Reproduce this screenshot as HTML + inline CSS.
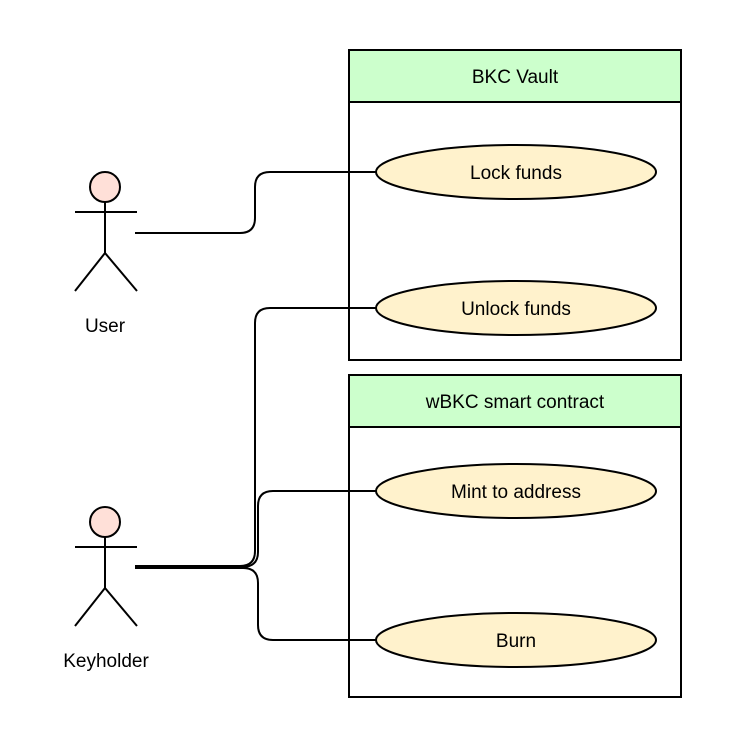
<!DOCTYPE html>
<html><head><style>body{margin:0;background:#fff}</style></head><body>
<svg width="734" height="750" xmlns="http://www.w3.org/2000/svg" font-family="'Liberation Sans', sans-serif" font-size="19" fill="none" stroke="#000" stroke-width="2">
<rect x="349" y="50" width="332" height="310" fill="#fff"/>
<rect x="349" y="50" width="332" height="52" fill="#ccffcc"/>
<rect x="349" y="375" width="332" height="322" fill="#fff"/>
<rect x="349" y="375" width="332" height="52" fill="#ccffcc"/>
<path d="M135 233 H240 Q255 233 255 218 V187 Q255 172 270 172 H376"/>
<path d="M135 566 H240 Q255 566 255 551 V323 Q255 308 270 308 H376"/>
<path d="M135 567 H242 Q258 567 258 552 V506 Q258 491 273 491 H376"/>
<path d="M135 568 H243 Q258 568 258 583 V625 Q258 640 273 640 H376"/>
<g fill="#fff2cc">
<ellipse cx="516" cy="172" rx="140" ry="27"/>
<ellipse cx="516" cy="308" rx="140" ry="27"/>
<ellipse cx="516" cy="491" rx="140" ry="27"/>
<ellipse cx="516" cy="640" rx="140" ry="27"/>
</g>
<g fill="#ffe0d8"><circle cx="105" cy="187" r="15"/><circle cx="105" cy="522" r="15"/></g>
<path d="M105 202 V253 M75 212 H137 M105 253 L75 291 M105 253 L137 291"/>
<path d="M105 537 V588 M75 547 H137 M105 588 L75 626 M105 588 L137 626"/>
<g fill="#000" stroke="none" text-anchor="middle">
<text x="515" y="83">BKC Vault</text>
<text x="515" y="408">wBKC smart contract</text>
<text x="516" y="179">Lock funds</text>
<text x="516" y="315">Unlock funds</text>
<text x="516" y="498">Mint to address</text>
<text x="516" y="647">Burn</text>
<text x="105" y="332">User</text>
<text x="106" y="667">Keyholder</text>
</g>
</svg>
</body></html>
